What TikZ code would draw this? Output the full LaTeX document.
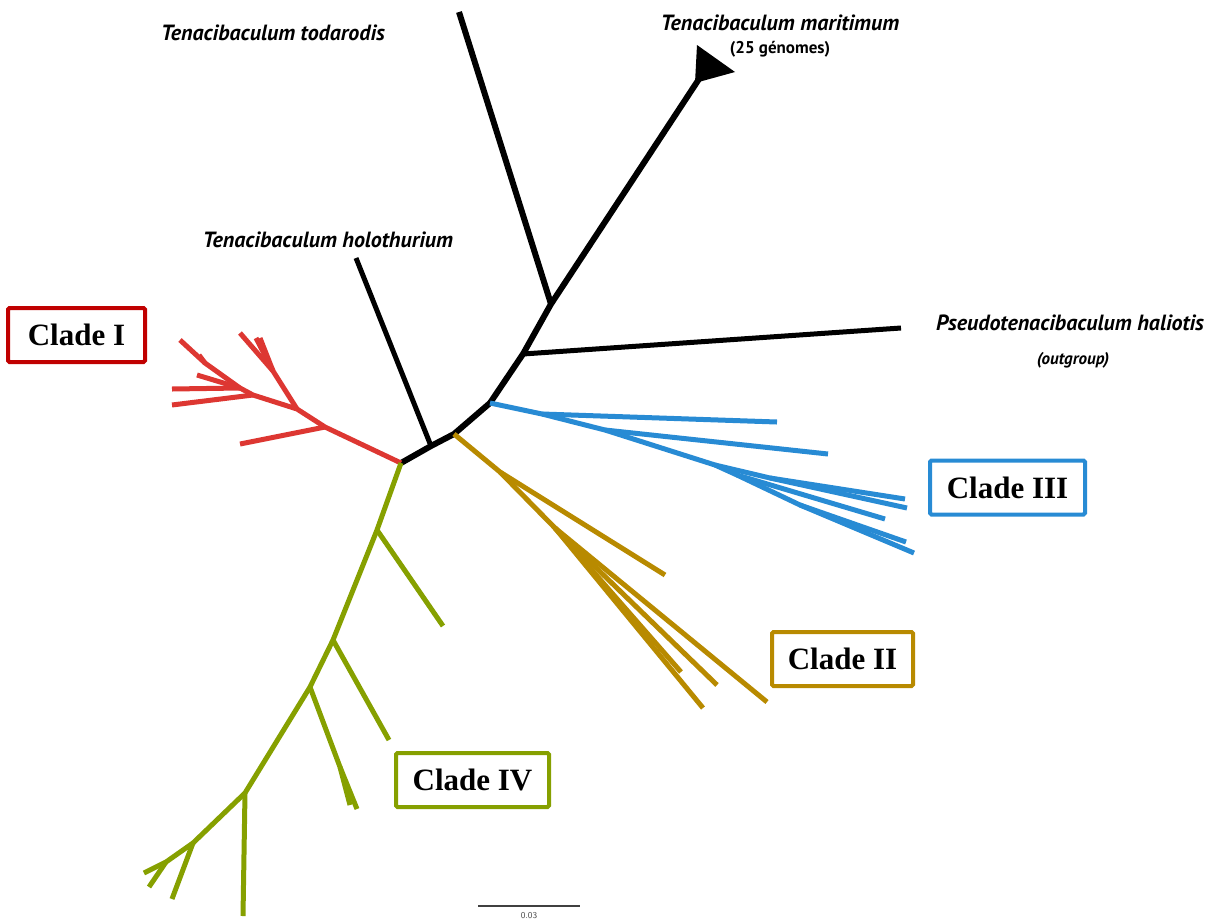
\documentclass[tikz,border=0pt]{standalone}
\usepackage{fontspec}
\setmainfont{Liberation Serif}
\newfontfamily\lblfont{PT Sans}
\definecolor{cI}{RGB}{221,55,50}
\definecolor{cIbox}{RGB}{192,0,0}
\definecolor{cII}{RGB}{184,138,0}
\definecolor{cIII}{RGB}{40,139,212}
\definecolor{cIV}{RGB}{134,160,0}
\begin{document}
\begin{tikzpicture}[x=1pt,y=-1pt,
  bk/.style={line width=6pt, black, line join=round},
  rd/.style={line width=5pt, cI, line join=round},
  gn/.style={line width=5pt, cIV, line join=round},
  gd/.style={line width=5pt, cII, line join=round},
  bl/.style={line width=5pt, cIII, line join=round},
  taxon/.style={font=\lblfont\bfseries\itshape\fontsize{22}{24}\selectfont, inner sep=0pt},
  subnote/.style={font=\lblfont\bfseries\fontsize{17}{19}\selectfont, inner sep=0pt},
  cladebox/.style={draw, line width=4pt, rounded corners=1.5pt, minimum height=54pt, inner sep=0pt, font=\bfseries\fontsize{31}{34}\selectfont}]
\useasboundingbox (0,0) rectangle (1229,919);

% backbone
\coordinate (A) at (401,463);
\coordinate (B) at (431,446);
\coordinate (C) at (454,434);
\coordinate (D) at (490,403);
\coordinate (E) at (523,354);
\coordinate (F) at (551,304);
\coordinate (Gm) at (699,79);
\coordinate (tTod) at (459,12);
\coordinate (tHol) at (356,258);
\coordinate (tPse) at (901,328);
\coordinate (tri1) at (697,45);
\coordinate (tri2) at (735,72);
\coordinate (tri3) at (695,83);

\draw[bk] (A) -- (B) -- (C) -- (D) -- (E) -- (F) -- (Gm);
\draw[bk] (F) -- (tTod);
\draw[bk, line width=5pt] (B) -- (tHol);
\draw[bk, line width=5pt] (E) -- (tPse);
\fill[black] (tri1) -- (tri2) -- (tri3) -- cycle;

% clade I (red)
\coordinate (R1) at (325,427);
\coordinate (R2) at (297,409);
\coordinate (R2a) at (273,371);
\coordinate (R3) at (253,395);
\coordinate (R4) at (240,388);
\coordinate (R5) at (205,363);
\coordinate (r1) at (240,444);
\coordinate (r2) at (240,333);
\coordinate (r3) at (256,338);
\coordinate (r4) at (260,338);
\coordinate (r5) at (172,405);
\coordinate (r6) at (172,389);
\coordinate (r7) at (197,375);
\coordinate (r8) at (180,340);
\coordinate (r9) at (199,355);
\draw[rd] (A) -- (R1) -- (R2) -- (R3) -- (R4) -- (R5) -- (r8);
\draw[rd] (R1) -- (r1);
\draw[rd] (R2) -- (R2a) -- (r2);
\draw[rd] (R2a) -- (r3);
\draw[rd] (R2a) -- (r4);
\draw[rd] (R3) -- (r5);
\draw[rd] (R4) -- (r6);
\draw[rd] (R4) -- (r7);
\draw[rd] (R5) -- (r9);

% clade IV (green)
\coordinate (G1) at (377,530);
\coordinate (G2) at (333,640);
\coordinate (G3) at (310,687);
\coordinate (G3a) at (340,767);
\coordinate (G4) at (245,793);
\coordinate (G5) at (193,843);
\coordinate (G6) at (166,862);
\coordinate (g1) at (443,626);
\coordinate (g2) at (389,740);
\coordinate (g3) at (350,805);
\coordinate (g4) at (357,809);
\coordinate (g5) at (243,916);
\coordinate (g6) at (172,899);
\coordinate (g7) at (144,873);
\coordinate (g8) at (149,887);
\draw[gn] (A) -- (G1) -- (G2) -- (G3) -- (G4) -- (G5) -- (G6) -- (g7);
\draw[gn] (G1) -- (g1);
\draw[gn] (G2) -- (g2);
\draw[gn] (G3) -- (G3a) -- (g3);
\draw[gn] (G3a) -- (g4);
\draw[gn] (G4) -- (g5);
\draw[gn] (G5) -- (g6);
\draw[gn] (G6) -- (g8);

% clade II (gold)
\coordinate (K1) at (500,472);
\coordinate (K2) at (555,528);
\coordinate (k1) at (665,575);
\coordinate (k2) at (767,702);
\coordinate (k3) at (717,685);
\coordinate (k4) at (703,708);
\coordinate (k5) at (681,672);
\draw[gd] (C) -- (K1) -- (K2) -- (k4);
\draw[gd] (K1) -- (k1);
\draw[gd] (K2) -- (k2);
\draw[gd] (K2) -- (k3);
\draw[gd] (K2) -- (k5);

% clade III (blue)
\coordinate (B1) at (542,414);
\coordinate (B2) at (605,430);
\coordinate (B3) at (715,465);
\coordinate (B4) at (770,478);
\coordinate (B5) at (737,475);
\coordinate (B6) at (800,505);
\coordinate (b1) at (777,422);
\coordinate (b2) at (828,454);
\coordinate (b3) at (905,499);
\coordinate (b4) at (907,508);
\coordinate (b5) at (885,519);
\coordinate (b6) at (906,542);
\coordinate (b7) at (914,553);
\draw[bl] (D) -- (B1) -- (B2) -- (B3) -- (B5) -- (B6) -- (b7);
\draw[bl] (B1) -- (b1);
\draw[bl] (B2) -- (b2);
\draw[bl] (B3) -- (B4) -- (b3);
\draw[bl] (B4) -- (b4);
\draw[bl] (B5) -- (b5);
\draw[bl] (B6) -- (b6);

% labels
\node[taxon] (lTod) at (273,33) {Tenacibaculum todarodis};
\node[taxon] (lMar) at (780,23) {Tenacibaculum maritimum};
\node[subnote] (lGen) at (780,49) {(25 génomes)};
\node[taxon] (lHol) at (328,240) {Tenacibaculum holothurium};
\node[taxon] (lPse) at (1070,323) {Pseudotenacibaculum haliotis};
\node[subnote, font=\lblfont\bfseries\itshape\fontsize{17}{19}\selectfont] (lOut) at (1073,360) {(outgroup)};

% clade boxes
\node[cladebox, draw=cIbox, minimum width=137pt] (cbI) at (76.5,335) {Clade I};
\node[cladebox, draw=cII, minimum width=141pt] (cbII) at (842.5,659) {Clade II};
\node[cladebox, draw=cIII, minimum width=155pt] (cbIII) at (1007.5,487.5) {Clade III};
\node[cladebox, draw=cIV, minimum width=153pt] (cbIV) at (472.5,780) {Clade IV};

% scale bar
\coordinate (sb1) at (478,906);
\coordinate (sb2) at (580,906);
\draw[line width=1.3pt, black!75] (sb1) -- (sb2);
\node[font=\sffamily\fontsize{9}{10}\selectfont, text=black!70, anchor=south, inner sep=0pt] (sbl) at (529,918.5) {0.03};
\end{tikzpicture}
\end{document}
